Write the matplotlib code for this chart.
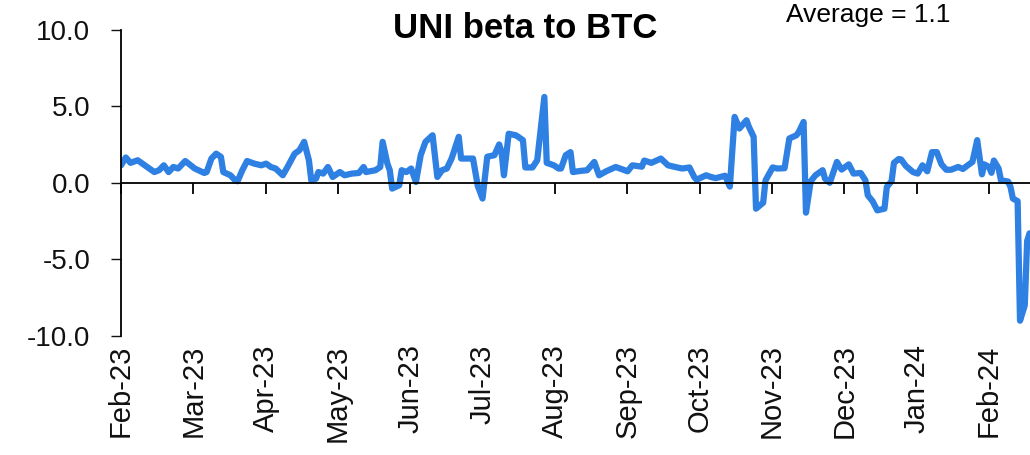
import numpy as np
import matplotlib
matplotlib.use("Agg")
import matplotlib.pyplot as plt

# Days since 1 Feb 2023 and UNI beta to BTC
days = [0, 2, 4, 7, 11, 14, 16, 18, 20, 22, 24, 27, 31, 35, 36, 38, 40, 42, 43, 46,
        48, 49, 51, 53, 56, 59, 61, 63, 65, 68, 70, 73, 75, 77, 79, 80, 82, 83, 85, 87,
        89, 92, 94, 97, 100, 102, 103, 107, 109, 110, 112, 113, 114, 117, 118, 120, 122, 124, 126, 128,
        131, 133, 135, 137, 139, 142, 143, 147, 148, 150, 152, 154, 157, 159, 160, 161, 163, 166, 167, 169,
        170, 173, 175, 178, 179, 182, 184, 185, 187, 189, 190, 193, 196, 199, 201, 204, 208, 213, 215, 219,
        220, 223, 227, 230, 233, 236, 239, 241, 242, 246, 248, 250, 254, 256, 258, 260, 263, 264, 266, 267,
        270, 271, 274, 276, 279, 281, 284, 285, 287, 288, 290, 292, 295, 296, 298, 301, 303, 306, 308, 311,
        313, 314, 316, 318, 321, 322, 324, 325, 327, 328, 330, 333, 335, 337, 339, 341, 343, 345, 347, 349,
        352, 354, 356, 358, 360, 362, 363, 365, 366, 367, 369, 370, 373, 374, 375, 377, 378, 380, 381, 382]
beta = [1.14, 1.65, 1.30, 1.47, 1.03, 0.70, 0.82, 1.14, 0.70, 1.03, 0.93, 1.42, 0.93, 0.64, 0.70, 1.58, 1.90, 1.69, 0.70, 0.49,
        0.16, 0.10, 0.82, 1.42, 1.25, 1.14, 1.25, 1.03, 0.93, 0.49, 1.03, 1.90, 2.12, 2.67, 1.47, 0.16, 0.27, 0.70, 0.60, 1.03,
        0.38, 0.70, 0.49, 0.60, 0.64, 1.03, 0.70, 0.82, 1.03, 2.67, 1.25, 0.82, -0.38, -0.16, 0.82, 0.70, 0.93, 0.05, 1.80, 2.67,
        3.10, 0.38, 0.82, 0.93, 1.58, 3.00, 1.58, 1.58, 1.58, -0.20, -1.03, 1.70, 1.80, 2.50, 2.00, 0.49, 3.20, 3.10, 3.00, 2.78,
        1.00, 1.00, 1.47, 5.60, 1.30, 1.14, 0.93, 0.93, 1.80, 2.00, 0.70, 0.77, 0.82, 1.36, 0.49, 0.75, 1.03, 0.75, 1.14, 1.05,
        1.45, 1.30, 1.58, 1.14, 1.03, 0.93, 1.00, 0.38, 0.20, 0.49, 0.38, 0.30, 0.46, -0.25, 4.30, 3.54, 4.08, 3.65, 3.00, -1.69,
        -1.30, 0.16, 1.00, 0.93, 0.95, 2.89, 3.10, 3.32, 3.97, -1.95, 0.10, 0.49, 0.82, 0.27, 0.00, 1.36, 0.86, 1.20, 0.60, 0.64,
        0.16, -0.82, -1.20, -1.80, -1.69, -0.27, 0.10, 1.30, 1.55, 1.52, 1.10, 0.70, 0.60, 1.14, 0.75, 2.00, 2.00, 1.20, 0.85, 0.85,
        1.03, 0.90, 1.14, 1.36, 2.78, 0.55, 1.20, 1.03, 0.65, 1.45, 0.93, 0.16, 0.08, -0.27, -1.03, -1.20, -9.00, -8.00, -3.80, -3.30]

month_labels = ["Feb-23", "Mar-23", "Apr-23", "May-23", "Jun-23", "Jul-23", "Aug-23",
                "Sep-23", "Oct-23", "Nov-23", "Dec-23", "Jan-24", "Feb-24"]
y_ticks = [-10, -5, 0, 5, 10]
title_text = "UNI beta to BTC"
average_text = "Average = 1.1"

plt.rcParams["font.family"] = ["Liberation Sans", "DejaVu Sans"]
plt.rcParams["axes.unicode_minus"] = False

fig = plt.figure(figsize=(10.30, 4.55), dpi=100)
ax = fig.add_axes([0.1175, 0.2615, 0.8825, 0.6736])

ax.plot(days, beta, color="#2E80E3", lw=4.5, solid_joinstyle="round", solid_capstyle="round")

ax.set_ylim(-10, 10)
ax.set_xlim(0, 382.2)
ax.set_yticks(y_ticks)
ax.set_yticklabels([f"{v:.1f}" for v in y_ticks])
ax.tick_params(axis="y", direction="out", length=7.2, width=1.0, pad=15, labelsize=20, colors="#111111")

tick_pos = np.linspace(0, 365, len(month_labels))
ax.set_xticks(tick_pos)
ax.spines["bottom"].set_position(("data", 0))
ax.tick_params(axis="x", direction="out", length=8, width=1.3, labelbottom=False)
for s in ["top", "right"]:
    ax.spines[s].set_visible(False)
ax.spines["left"].set_linewidth(1.3)
ax.spines["bottom"].set_linewidth(1.3)

sec = ax.secondary_xaxis("bottom")
sec.set_xticks(tick_pos)
sec.set_xticklabels(month_labels, rotation=90, fontsize=21, color="#111111")
sec.tick_params(axis="x", length=0, pad=6)
sec.spines["bottom"].set_visible(False)

fig.text(0.51, 0.938, title_text, ha="center", va="center", fontsize=25, fontweight="bold")
fig.text(0.843, 0.968, average_text, ha="center", va="center", fontsize=19)

fig.savefig("out.png", dpi=100)
